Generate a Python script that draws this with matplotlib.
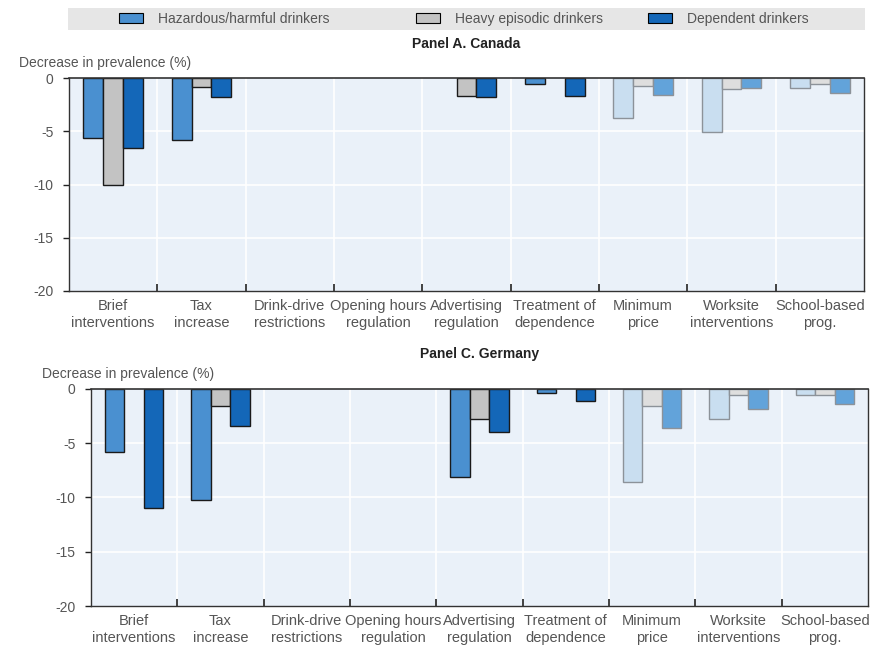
import numpy as np
import matplotlib
matplotlib.use("Agg")
from matplotlib import pyplot as plt
from matplotlib.patches import Patch, Rectangle

plt.rcParams["font.family"] = ["Liberation Sans Narrow", "Liberation Sans", "DejaVu Sans"]

nan = np.nan

categories = [
    "Brief\ninterventions",
    "Tax\nincrease",
    "Drink-drive\nrestrictions",
    "Opening hours\nregulation",
    "Advertising\nregulation",
    "Treatment of\ndependence",
    "Minimum\nprice",
    "Worksite\ninterventions",
    "School-based\nprog.",
]
series_names = ["Hazardous/harmful drinkers", "Heavy episodic drinkers", "Dependent drinkers"]

canada_hazardous = [-5.6, -5.85, nan, nan, nan, -0.6, -3.75, -5.1, -0.9]
canada_heavy = [-10.0, -0.85, nan, nan, -1.65, nan, -0.75, -1.0, -0.55]
canada_dependent = [-6.55, -1.8, nan, nan, -1.8, -1.7, -1.55, -0.9, -1.45]

germany_hazardous = [-5.8, -10.2, nan, nan, -8.15, -0.4, -8.6, -2.75, -0.55]
germany_heavy = [nan, -1.55, nan, nan, -2.75, nan, -1.6, -0.55, -0.55]
germany_dependent = [-11.0, -3.45, nan, nan, -4.0, -1.1, -3.6, -1.85, -1.35]

colors = ["#4a90d0", "#c3c3c3", "#1467b8"]
faded_colors = ["#c9def0", "#dedede", "#62a3da"]
faded_cats = [6, 7, 8]

text_gray = "#555555"
bg = "#eaf1f9"

fig = plt.figure(figsize=(8.81, 6.45), dpi=100)

# legend band
fig.patches.append(Rectangle((68 / 881, 1 - 30 / 645), 797 / 881, 22 / 645,
                             transform=fig.transFigure, facecolor="#e6e6e6",
                             edgecolor="none", zorder=0))
legend_x = [119 / 881, 416 / 881, 648 / 881]
for name, c, lx in zip(series_names, colors, legend_x):
    h = Patch(facecolor=c, edgecolor="black", linewidth=0.8)
    fig.legend([h], [name], loc="center left", bbox_to_anchor=(lx, 1 - 19 / 645),
               frameon=False, fontsize=10, handlelength=1.7, handleheight=0.8,
               handletextpad=1.1, borderaxespad=0, borderpad=0,
               labelcolor=text_gray)


def draw_panel(rect, title, series):
    ax = fig.add_axes(rect)
    ax.set_facecolor(bg)
    n = len(categories)
    x = np.arange(n)
    w = 0.225
    for k, vals in enumerate(series):
        for i in range(n):
            v = vals[i]
            if np.isnan(v):
                continue
            if i in faded_cats:
                fc, ec = faded_colors[k], "#8c9299"
            else:
                fc, ec = colors[k], "#1a1a1a"
            ax.bar(x[i] + (k - 1) * w, v, width=w, color=fc, edgecolor=ec,
                   linewidth=1.0, zorder=3)
    ax.set_xlim(-0.5, n - 0.5)
    ax.set_ylim(-20, 0)
    ax.set_yticks([0, -5, -10, -15, -20])
    ax.set_yticklabels(["0", "-5", "-10", "-15", "-20"])
    bounds = np.arange(0.5, n - 0.5, 1.0)
    ax.set_xticks(bounds)
    ax.set_xticklabels([])
    ax.set_xticks(x, minor=True)
    ax.set_xticklabels(categories, minor=True, fontsize=10.5, color=text_gray,
                       linespacing=1.2)
    ax.tick_params(axis="x", which="major", direction="in", length=5, width=1.2,
                   color="#222222")
    ax.tick_params(axis="x", which="minor", length=0, pad=6)
    ax.tick_params(axis="y", direction="out", length=4, width=1, color="#222222",
                   labelsize=10, labelcolor=text_gray, pad=7)
    for b in bounds:
        ax.axvline(b, color="white", linewidth=1.2, zorder=1)
    for yv in [-5, -10, -15]:
        ax.axhline(yv, color="white", linewidth=1.2, zorder=1)
    for s in ax.spines.values():
        s.set_color("#333333")
        s.set_linewidth(1.0)
    ax.spines["top"].set_linewidth(1.2)
    ax.spines["top"].set_zorder(4)
    ax.text(-0.063, 1.07, "Decrease in prevalence (%)", transform=ax.transAxes,
            ha="left", va="center", fontsize=10, color=text_gray)
    ax.text(0.5, 1.16, title, transform=ax.transAxes, ha="center", va="center",
            fontsize=10, fontweight="bold", color="#222222")
    return ax


draw_panel([69 / 881, 1 - 291 / 645, 795 / 881, 213 / 645], "Panel A. Canada",
           [canada_hazardous, canada_heavy, canada_dependent])
draw_panel([91 / 881, 1 - 606 / 645, 777 / 881, 217 / 645], "Panel C. Germany",
           [germany_hazardous, germany_heavy, germany_dependent])

fig.savefig("out.png", dpi=100)
